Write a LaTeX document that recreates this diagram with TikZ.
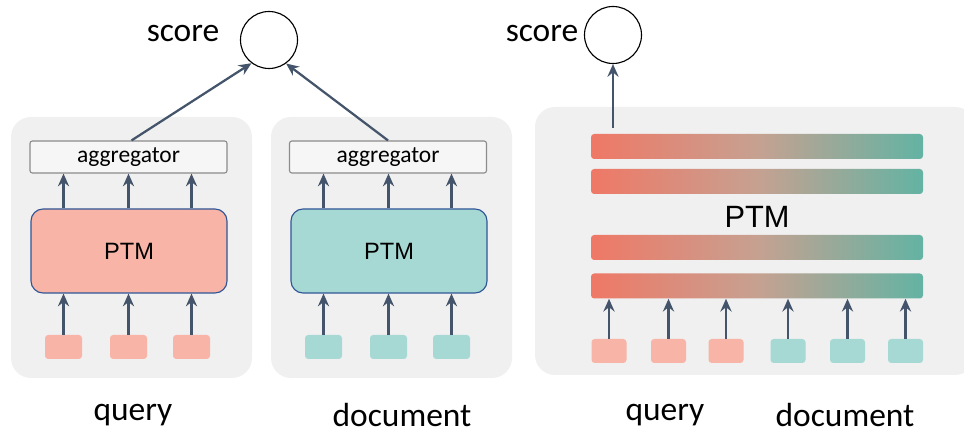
\documentclass[tikz,border=0pt]{standalone}
\usepackage{fontspec}
\setmainfont{Carlito}
\newfontfamily\ptmfont{Liberation Sans}
\usetikzlibrary{arrows.meta,positioning}
\newdimen\px \px=0.25mm
\definecolor{panelgray}{HTML}{F0F0F0}
\definecolor{salmon}{HTML}{F8B4A6}
\definecolor{tealish}{HTML}{A6D9D3}
\definecolor{arrowblue}{HTML}{44546A}
\definecolor{ptmborder}{HTML}{2F5597}
\definecolor{gradred}{HTML}{EF7866}
\definecolor{gradmid}{HTML}{C6A191}
\definecolor{gradteal}{HTML}{63B3A3}
\begin{document}
\begin{tikzpicture}[x=0.25mm,y=-0.25mm]
\tikzset{
  panel/.style={rounded corners=5mm,fill=panelgray,draw=none,minimum width=241\px,minimum height=261\px},
  aggbox/.style={draw=gray!90,fill=panelgray!60,line width=0.8pt,rounded corners=0.6mm,minimum width=197\px,minimum height=32\px,inner sep=0pt,font=\fontsize{16.7}{18}\selectfont},
  ptmbox/.style={draw=ptmborder,line width=0.8pt,rounded corners=3mm,minimum width=196\px,minimum height=84\px,font=\ptmfont\fontsize{16.8}{18}\selectfont},
  token/.style={rounded corners=0.8mm,draw=none,minimum width=37\px,minimum height=24\px,inner sep=0pt},
  bar/.style={rounded corners=0.8mm,draw=none,minimum width=332\px,minimum height=25\px,inner sep=0pt,
    left color=gradred,right color=gradteal,middle color=gradmid},
  scorenode/.style={circle,draw,line width=0.8pt,minimum size=57\px,inner sep=0pt},
  label/.style={font=\fontsize{23.8}{26}\selectfont,inner sep=0pt},
  flow/.style={-{Stealth[length=3.2mm,width=2.8mm,inset=1.1mm]},draw=arrowblue,line width=1.6pt}
}
\useasboundingbox (0,0) rectangle (964,433);
% panels
\node[panel] (pan_q) at (131.5,247.5) {};
\node[panel] (pan_d) at (391.5,247.5) {};
\node[panel,minimum width=440\px,minimum height=268\px] (pan_x) at (755,241) {};
% dual encoder, query side
\node[aggbox] (agg_q) at (128.5,157) {aggregator};
\node[ptmbox,fill=salmon] (ptm_q) at (129,251) {PTM};
\node[token,fill=salmon] (tq_1) at (63.5,347) {};
\node[token,fill=salmon] (tq_2) at (128.5,347) {};
\node[token,fill=salmon] (tq_3) at (191.5,347) {};
% dual encoder, document side
\node[aggbox] (agg_d) at (388,157) {aggregator};
\node[ptmbox,fill=tealish] (ptm_d) at (389,251) {PTM};
\node[token,fill=tealish] (td_1) at (323.5,347) {};
\node[token,fill=tealish] (td_2) at (388.5,347) {};
\node[token,fill=tealish] (td_3) at (451.5,347) {};
% scores
\node[scorenode] (score_l) at (269,40) {};
\node[label] (lab_sl) at (183,33) {score};
\node[scorenode] (score_r) at (613,35) {};
\node[label] (lab_sr) at (542,33) {score};
% cross encoder
\node[bar] (bar_1) at (757,146.5) {};
\node[bar] (bar_2) at (757,181.5) {};
\node[font=\ptmfont\fontsize{21.9}{24}\selectfont] (ptm_x) at (757,217) {PTM};
\node[bar] (bar_3) at (757,247.5) {};
\node[bar] (bar_4) at (757,286) {};
\node[token,fill=salmon,minimum width=35\px] (tx_1) at (609,351) {};
\node[token,fill=salmon,minimum width=35\px] (tx_2) at (668.5,351) {};
\node[token,fill=salmon,minimum width=35\px] (tx_3) at (726,351) {};
\node[token,fill=tealish,minimum width=35\px] (tx_4) at (788,351) {};
\node[token,fill=tealish,minimum width=35\px] (tx_5) at (847.5,351) {};
\node[token,fill=tealish,minimum width=35\px] (tx_6) at (905.5,351) {};
% labels
\node[label] (lab_q) at (133,415) {query};
\node[label] (lab_d) at (402,415) {document};
\node[label] (lab_xq) at (665,415) {query};
\node[label] (lab_xd) at (845,415) {document};
% arrows
\foreach \s/\p/\a in {q/ptm_q/agg_q,d/ptm_d/agg_d}{
  \foreach \i in {1,2,3}{
    \draw[flow] (t\s_\i.north) -- (t\s_\i.north |- \p.south);
    \draw[flow] (t\s_\i.north |- \p.north) -- (t\s_\i.north |- \a.south);
  }
}
\foreach \i in {1,...,6}
  \draw[flow] (tx_\i.north) -- (tx_\i.north |- bar_4.south);
\draw[flow] ([xshift=3\px]agg_q.north) -- (score_l.233);
\draw[flow] (agg_d.north) -- (score_l.306);
\draw[flow,shorten <=6\px] (score_r.south |- bar_1.north) -- (score_r.south);
\end{tikzpicture}
\end{document}
